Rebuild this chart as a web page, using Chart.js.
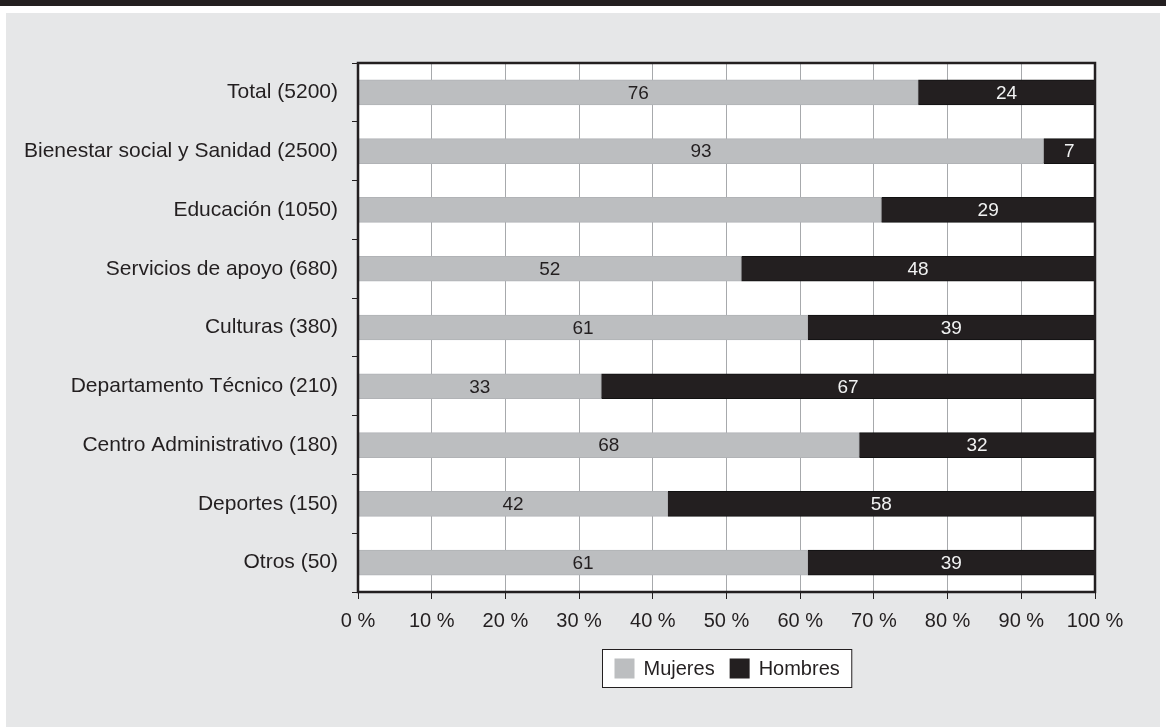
<!DOCTYPE html>
<html>
<head>
<meta charset="utf-8">
<style>
  html, body { margin: 0; padding: 0; background: #ffffff; }
  #wrap { width: 1166px; height: 727px; position: relative; }
</style>
<script src="https://cdn.jsdelivr.net/npm/chart.js@4/dist/chart.umd.min.js"></script>
</head>
<body>
<div id="wrap"><canvas id="chart" width="1166" height="727"></canvas></div>
<script>
// Staff by department (headcount in brackets), share of women and men in %
const categories = [
  'Total (5200)',
  'Bienestar social y Sanidad (2500)',
  'Educación (1050)',
  'Servicios de apoyo (680)',
  'Culturas (380)',
  'Departamento Técnico (210)',
  'Centro Administrativo (180)',
  'Deportes (150)',
  'Otros (50)'
];
const mujeres = [76, 93, 71, 52, 61, 33, 68, 42, 61];
const hombres = [24, 7, 29, 48, 39, 67, 32, 58, 39];
const seriesNames = ['Mujeres', 'Hombres'];
const xTicks = [0, 10, 20, 30, 40, 50, 60, 70, 80, 90, 100];
// bars printed without a value label
const unlabeledMujeres = ['Educación (1050)'];

const FONT = "'Liberation Sans', Arial, sans-serif";
const INK = '#231f20';
const GREY = '#bcbec0';
const PANEL = '#e6e7e8';

// page backdrop: dark band on top, grey panel, white plot area
const backdrop = {
  id: 'backdrop',
  beforeDraw(chart) {
    const { ctx, width, height, chartArea: a } = chart;
    ctx.save();
    ctx.fillStyle = '#ffffff';
    ctx.fillRect(0, 0, width, height);
    ctx.fillStyle = INK;
    ctx.fillRect(0, 0, width, 6);
    ctx.fillStyle = PANEL;
    ctx.fillRect(6, 13, width - 12, height - 13);
    ctx.fillStyle = '#ffffff';
    ctx.fillRect(a.left, a.top, a.right - a.left, a.bottom - a.top);
    ctx.restore();
  }
};

// values written inside each bar segment, plus the frame round the plot
const barText = {
  id: 'barText',
  afterDatasetsDraw(chart) {
    const { ctx, chartArea: a } = chart;
    ctx.save();
    ctx.font = '19px ' + FONT;
    ctx.textAlign = 'center';
    ctx.textBaseline = 'middle';
    chart.data.datasets.forEach((ds, i) => {
      const meta = chart.getDatasetMeta(i);
      meta.data.forEach((el, j) => {
        if (i === 0 && unlabeledMujeres.includes(chart.data.labels[j])) return;
        const p = el.getProps(['x', 'y', 'base'], true);
        ctx.fillStyle = i === 0 ? INK : '#f1f2f2';
        ctx.fillText(String(ds.data[j]), (p.x + p.base) / 2, p.y + 1);
      });
    });
    ctx.strokeStyle = INK;
    ctx.lineWidth = 2.5;
    ctx.strokeRect(a.left, a.top, a.right - a.left, a.bottom - a.top);
    ctx.restore();
  }
};

// boxed legend centred under the plot
const boxedLegend = {
  id: 'boxedLegend',
  afterDraw(chart) {
    const { ctx, chartArea: a } = chart;
    const ds = chart.data.datasets;
    ctx.save();
    ctx.font = '20px ' + FONT;
    const sw = 20, gapText = 9, gapItem = 15, padX = 12;
    let total = padX * 2;
    ds.forEach((d, i) => {
      total += sw + gapText + ctx.measureText(d.label).width;
      if (i < ds.length - 1) total += gapItem;
    });
    const cx = (a.left + a.right) / 2;
    const left = Math.round(cx - total / 2) + 0.5;
    const top = 649.5, h = 38;
    ctx.fillStyle = '#ffffff';
    ctx.fillRect(left, top, total, h);
    ctx.strokeStyle = INK;
    ctx.lineWidth = 1;
    ctx.strokeRect(left, top, total, h);
    let x = left + padX;
    const cy = top + h / 2;
    ds.forEach((d) => {
      ctx.fillStyle = d.backgroundColor;
      ctx.fillRect(x, cy - 10, sw, 20);
      x += sw + gapText;
      ctx.fillStyle = INK;
      ctx.textBaseline = 'middle';
      ctx.textAlign = 'left';
      ctx.fillText(d.label, x, cy + 1);
      x += ctx.measureText(d.label).width + gapItem;
    });
    ctx.restore();
  }
};

new Chart(document.getElementById('chart'), {
  type: 'bar',
  data: {
    labels: categories,
    datasets: [
      { label: seriesNames[0], data: mujeres, backgroundColor: GREY, borderColor: '#b1b3b6', borderWidth: 1, barThickness: 25 },
      { label: seriesNames[1], data: hombres, backgroundColor: INK, borderColor: '#111111', borderWidth: 1, barThickness: 25 }
    ]
  },
  options: {
    indexAxis: 'y',
    responsive: false,
    animation: false,
    devicePixelRatio: 1,
    layout: { padding: { top: 63, right: 71, left: 0, bottom: 95 } },
    plugins: {
      legend: { display: false },
      tooltip: { enabled: false }
    },
    scales: {
      x: {
        stacked: true,
        min: 0,
        max: 100,
        afterBuildTicks(scale) { scale.ticks = xTicks.map(v => ({ value: v })); },
        afterFit(scale) { scale.height = 40; },
        border: { display: false },
        grid: { color: '#a7a9ac', lineWidth: 1, tickColor: INK, tickLength: 7, drawOnChartArea: true },
        ticks: {
          color: INK,
          font: { family: FONT, size: 20 },
          padding: 10,
          maxRotation: 0,
          callback: (v) => v + ' %'
        }
      },
      y: {
        stacked: true,
        afterFit(scale) { scale.width = 358; },
        border: { display: false },
        grid: { drawOnChartArea: false, offset: true, tickColor: INK, tickLength: 6, lineWidth: 1 },
        ticks: {
          color: INK,
          font: { family: FONT, size: 21 },
          padding: 14
        }
      }
    }
  },
  plugins: [backdrop, barText, boxedLegend]
});
</script>
</body>
</html>
